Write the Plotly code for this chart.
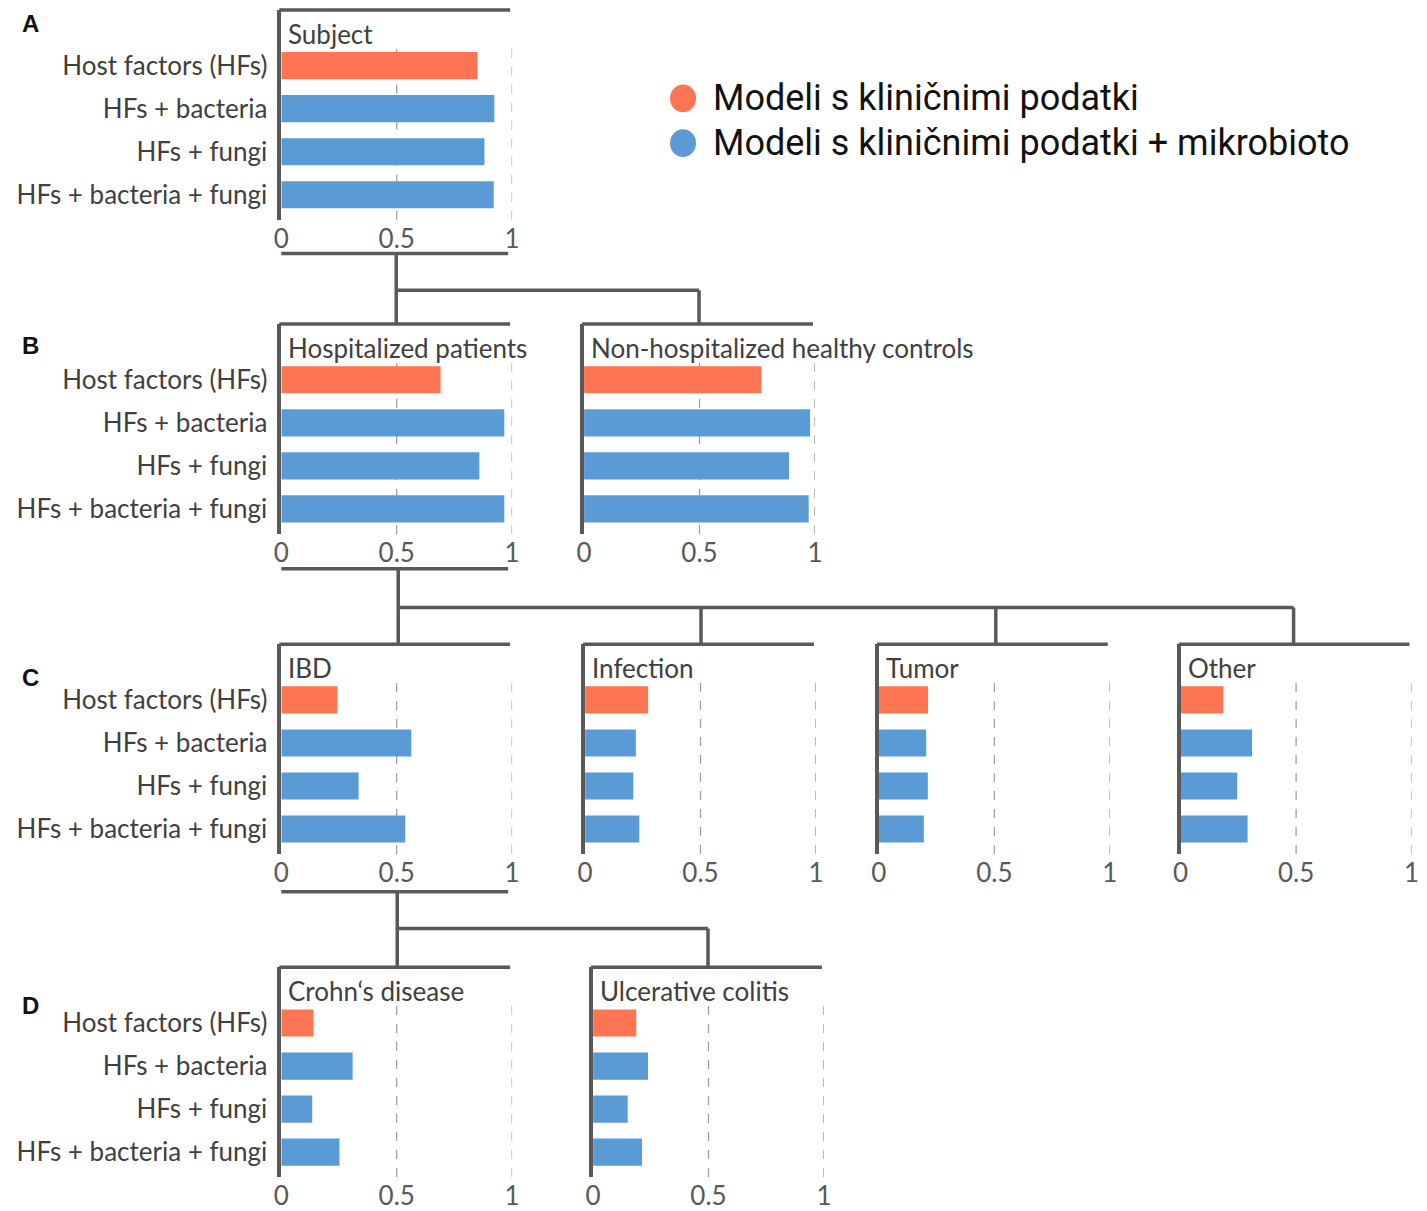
import plotly.graph_objects as go

W, H = 1427, 1211
# usable drawing extent and its left inset, in px
INSET = 7.5
SPAN = W - 15
VSPAN = H - 6

# Model accuracy per subgroup (order follows `categories`)
categories = ["Host factors (HFs)", "HFs + bacteria", "HFs + fungi", "HFs + bacteria + fungi"]
subject = [0.85, 0.923, 0.88, 0.92]
hospitalized = [0.69, 0.966, 0.858, 0.966]
non_hospitalized = [0.768, 0.979, 0.888, 0.973]
ibd = [0.243, 0.563, 0.335, 0.537]
infection = [0.273, 0.22, 0.209, 0.235]
tumor = [0.213, 0.205, 0.212, 0.195]
other = [0.185, 0.309, 0.245, 0.29]
crohn = [0.139, 0.309, 0.134, 0.252]
ulcerative = [0.187, 0.238, 0.15, 0.212]

x_ticks = [0, 0.5, 1]
x_tick_text = ["0", "0.5", "1"]

legend_names = ["Modeli s kliničnimi podatki", "Modeli s kliničnimi podatki + mikrobioto"]
panel_letters = ["A", "B", "C", "D"]

ORANGE = "#FF7452"
BLUE = "#5B9BD5"
LINE = "#595959"
TEXT = "#404040"
FONT = "Lato"
FS = 26


def px(x):
    return (x - INSET) / SPAN


def py(y):
    return 1 - y / VSPAN


# (title, values, left edge of axis in px, top frame line in px, show category labels)
panels = [
    ("Subject", subject, 281, 10, True),
    ("Hospitalized patients", hospitalized, 281, 326, True),
    ("Non-hospitalized healthy controls", non_hospitalized, 584, 326, False),
    ("IBD", ibd, 281, 648, True),
    ("Infection", infection, 585, 648, False),
    ("Tumor", tumor, 879, 648, False),
    ("Other", other, 1181, 648, False),
    ("Crohn\u2018s disease", crohn, 281, 973, True),
    ("Ulcerative colitis", ulcerative, 593, 973, False),
]

UNIT = 231      # px from 0 to 1 on each x axis
PANEL_H = 211   # px from frame top to end of axis line
FIRST = 56      # px from frame top to first bar centre
STEP = 43.3     # px between bar centres
GRID_TOP = 36   # px from frame top to start of dashed grid

fig = go.Figure()
shapes = []
annotations = []
layout_axes = {}

for i, (title, vals, left, top, show_labels) in enumerate(panels):
    n = i + 1
    xa = "x" if n == 1 else f"x{n}"
    ya = "y" if n == 1 else f"y{n}"
    xkey = "xaxis" if n == 1 else f"xaxis{n}"
    ykey = "yaxis" if n == 1 else f"yaxis{n}"

    fig.add_trace(go.Bar(
        x=vals[:1], y=categories[:1], orientation="h", width=0.63,
        marker=dict(color=ORANGE, line=dict(width=0)),
        name=legend_names[0], showlegend=False, xaxis=xa, yaxis=ya,
    ))
    fig.add_trace(go.Bar(
        x=vals[1:], y=categories[1:], orientation="h", width=0.63,
        marker=dict(color=BLUE, line=dict(width=0)),
        name=legend_names[1], showlegend=False, xaxis=xa, yaxis=ya,
    ))

    r_top = -FIRST / STEP
    r_bot = (PANEL_H - FIRST) / STEP

    layout_axes[xkey] = dict(
        domain=[px(left), px(left + UNIT)], range=[0, 1], anchor=ya,
        showgrid=False, zeroline=False, showline=False,
        tickvals=x_ticks, ticktext=x_tick_text, ticks="",
        tickfont=dict(family=FONT, size=FS, color=LINE),
        ticklabelstandoff=1, fixedrange=True,
    )
    layout_axes[ykey] = dict(
        domain=[py(top + PANEL_H), py(top)], anchor=xa,
        type="category", categoryorder="array", categoryarray=categories,
        range=[r_bot, r_top], showgrid=False, zeroline=False,
        showline=True, linecolor=LINE, linewidth=3.5,
        ticks="", showticklabels=show_labels,
        tickfont=dict(family=FONT, size=FS, color=TEXT),
        ticklabelstandoff=5, fixedrange=True,
    )

    # dashed reference lines at 0.5 and 1
    for gx in (0.5, 1):
        shapes.append(dict(
            type="line", xref=xa, yref=f"{ya} domain",
            x0=gx, x1=gx, y0=0, y1=(PANEL_H - GRID_TOP) / PANEL_H,
            line=dict(color="#9a9a9a", width=1.2, dash="dash"), layer="below",
        ))
    # frame line on top of each panel
    shapes.append(dict(
        type="line", xref="paper", yref="paper",
        x0=px(left - 2), x1=px(left + 229), y0=py(top), y1=py(top),
        line=dict(color=LINE, width=3.5),
    ))
    annotations.append(dict(
        text=title, xref="paper", yref="paper", x=px(left + 5), y=py(top + 24),
        xanchor="left", yanchor="middle", showarrow=False,
        font=dict(family=FONT, size=FS, color=TEXT),
    ))

# hierarchy connectors between levels
connectors = [
    # A -> B
    (281, 255, 508, 255), (396, 255, 396, 326), (396, 292, 699, 292), (699, 292, 699, 326),
    # Hospitalized -> C
    (281, 572, 508, 572), (398, 572, 398, 648), (398, 611, 1294, 611),
    (701, 611, 701, 648), (996, 611, 996, 648), (1294, 611, 1294, 648),
    # IBD -> D
    (281, 897, 508, 897), (397, 897, 397, 973), (397, 934, 708, 934), (708, 934, 708, 973),
]
for x0, y0, x1, y1 in connectors:
    shapes.append(dict(
        type="line", xref="paper", yref="paper",
        x0=px(x0), y0=py(y0), x1=px(x1), y1=py(y1),
        line=dict(color=LINE, width=3.5),
    ))

# panel letters
for letter, ly in zip(panel_letters, [24, 348, 681, 1011]):
    annotations.append(dict(
        text=f"<b>{letter}</b>", xref="paper", yref="paper", x=px(30), y=py(ly),
        xanchor="center", yanchor="middle", showarrow=False,
        font=dict(family="Liberation Sans", size=24, color="#111111"),
    ))

# legend
for name, color, ly in zip(legend_names, [ORANGE, BLUE], [99, 144]):
    shapes.append(dict(
        type="circle", xref="paper", yref="paper",
        x0=px(670), x1=px(696), y0=py(ly - 14), y1=py(ly + 14),
        fillcolor=color, line=dict(width=0),
    ))
    annotations.append(dict(
        text=name, xref="paper", yref="paper", x=px(711), y=py(ly),
        xanchor="left", yanchor="middle", showarrow=False,
        font=dict(family="Roboto", size=36, color="#111111"),
    ))

fig.update_layout(
    width=W, height=H, margin=dict(l=0, r=0, t=0, b=0),
    paper_bgcolor="white", plot_bgcolor="white",
    barmode="overlay", showlegend=False,
    shapes=shapes, annotations=annotations,
    **layout_axes,
)

fig.write_html("out.html")
